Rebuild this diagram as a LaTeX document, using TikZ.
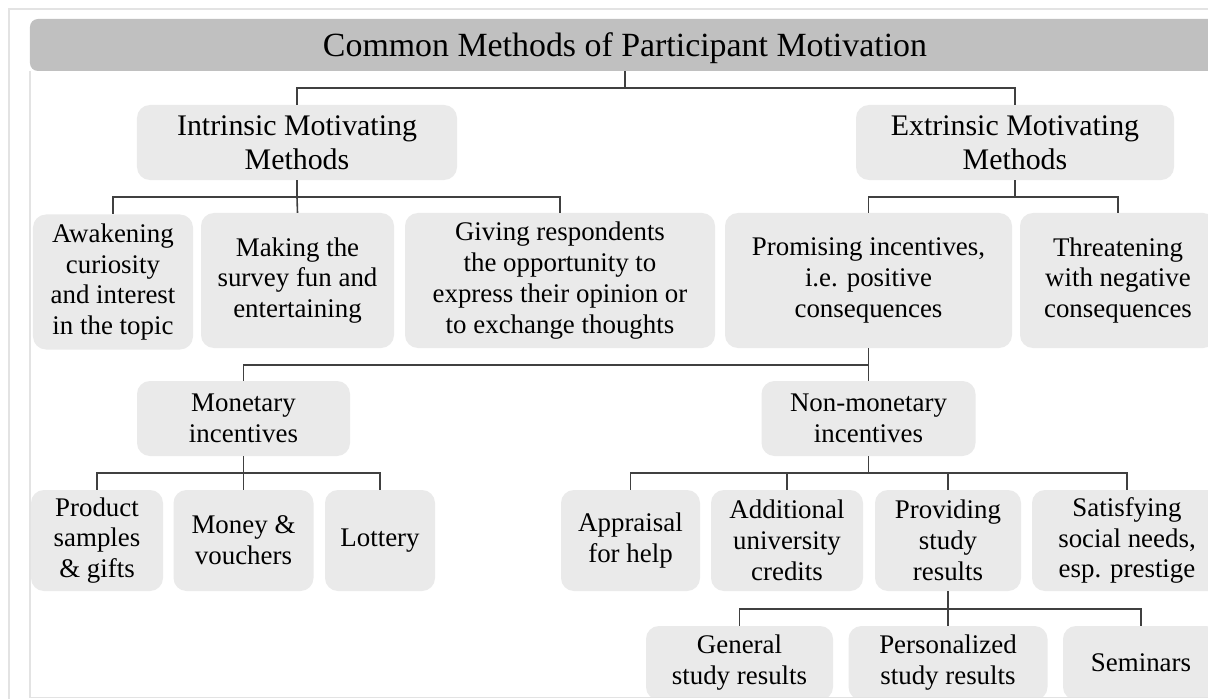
\documentclass[tikz,border=0pt]{standalone}
\usepackage{fontspec}
\setmainfont{Liberation Serif}
\definecolor{titlegray}{HTML}{C0C0C0}
\definecolor{boxgray}{HTML}{EAEAEA}
\definecolor{linegray}{HTML}{404040}
\definecolor{framegray}{HTML}{E3E3E3}
\begin{document}
\begin{tikzpicture}[x=1bp,y=-1bp,
  bx/.style={fill=boxgray, rounded corners=13bp, align=center, inner sep=0pt, text=black,
    font=\fontsize{27}{31}\selectfont},
  lv/.style={bx, font=\fontsize{30}{34}\selectfont},
  ttl/.style={fill=titlegray, rounded corners=8bp, align=center, inner sep=0pt, text=black,
    font=\fontsize{34}{40}\selectfont, text height=26bp, text depth=2bp},
  conn/.style={draw=linegray, line width=1.6bp},
  frame/.style={draw=framegray, line width=1.2bp}]
\useasboundingbox (0,0) rectangle (1208,699);
\fill[white] (0,0) rectangle (1208,699);
\begin{scope}
\clip (0,0) rectangle (1208,697);
\node[ttl, minimum width=1190bp, minimum height=52bp] (title) at (625,45) {Common Methods of Participant Motivation};
\node[lv, minimum width=320bp, minimum height=75bp] (intr) at (297,142.5) {Intrinsic Motivating\\Methods};
\node[lv, minimum width=318bp, minimum height=75bp] (extr) at (1015,142.5) {Extrinsic Motivating\\Methods};
\node[bx, minimum width=160bp, minimum height=135bp] (awak) at (113,282) {Awakening\\curiosity\\and interest\\in the topic};
\node[bx, minimum width=193bp, minimum height=135bp] (make) at (297.5,280.5) {Making the\\survey fun and\\entertaining};
\node[bx, minimum width=310bp, minimum height=135bp] (give) at (560,280.5) {Giving respondents\\the opportunity to\\express their opinion or\\to exchange thoughts};
\node[bx, minimum width=287bp, minimum height=135bp] (prom) at (868.5,280.5) {Promising incentives,\\i.e. positive\\consequences};
\node[bx, minimum width=196bp, minimum height=135bp] (thre) at (1118,280.5) {Threatening\\with negative\\consequences};
\node[bx, minimum width=213bp, minimum height=75bp] (mone) at (243.5,418.5) {Monetary\\incentives};
\node[bx, minimum width=214bp, minimum height=75bp] (nonm) at (868.5,418.5) {Non-monetary\\incentives};
\node[bx, minimum width=132bp, minimum height=101bp] (prod) at (97,540.5) {Product\\samples\\\& gifts};
\node[bx, minimum width=140bp, minimum height=101bp] (money) at (243.5,540.5) {Money \&\\vouchers};
\node[bx, minimum width=110bp, minimum height=101bp] (lott) at (380,540.5) {Lottery};
\node[bx, minimum width=139bp, minimum height=101bp] (appr) at (630.5,540.5) {Appraisal\\for help};
\node[bx, minimum width=152bp, minimum height=101bp] (addi) at (787,540.5) {Additional\\university\\credits};
\node[bx, minimum width=146bp, minimum height=101bp] (prov) at (948,540.5) {Providing\\study\\results};
\node[bx, minimum width=190bp, minimum height=101bp] (sati) at (1127,540.5) {Satisfying\\social needs,\\esp. prestige};
\node[bx, minimum width=187bp, minimum height=74bp] (gene) at (739.5,663) {General\\study results};
\node[bx, minimum width=199bp, minimum height=74bp] (pers) at (948,663) {Personalized\\study results};
\node[bx, minimum width=156bp, minimum height=74bp] (semi) at (1141,663) {Seminars};
\end{scope}
% connectors
\draw[conn] (title.south) -- ++(0,17) coordinate (j0);
\draw[conn] (j0) -| (intr.north);
\draw[conn] (j0) -| (extr.north);
\draw[conn] (intr.south) -- ++(0,17) coordinate (j1);
\draw[conn] (j1) -| (awak.north);
\draw[conn] (j1) -- (make.north);
\draw[conn] (j1) -| (give.north);
\draw[conn] (extr.south) -- ++(0,17) coordinate (j2);
\draw[conn] (j2) -| (prom.north);
\draw[conn] (j2) -| (thre.north);
\draw[conn] (prom.south) -- ++(0,17) coordinate (j3);
\draw[conn] (j3) -- (nonm.north);
\draw[conn] (j3) -| (mone.north);
\draw[conn] (mone.south) -- ++(0,17) coordinate (j4);
\draw[conn] (j4) -| (prod.north);
\draw[conn] (j4) -- (money.north);
\draw[conn] (j4) -| (lott.north);
\draw[conn] (nonm.south) -- ++(0,17) coordinate (j5);
\draw[conn] (j5) -| (appr.north);
\draw[conn] (j5) -| (addi.north);
\draw[conn] (j5) -| (prov.north);
\draw[conn] (j5) -| (sati.north);
\draw[conn] (prov.south) -- ++(0,18) coordinate (j6);
\draw[conn] (j6) -| (gene.north);
\draw[conn] (j6) -- (pers.north);
\draw[conn] (j6) -| (semi.north);
% frame lines
\draw[frame] (9,699) -- (9,9) -- (1208,9);
\draw[frame] (30,71) -- (30,697.5) -- (1208,697.5);
\end{tikzpicture}
\end{document}
